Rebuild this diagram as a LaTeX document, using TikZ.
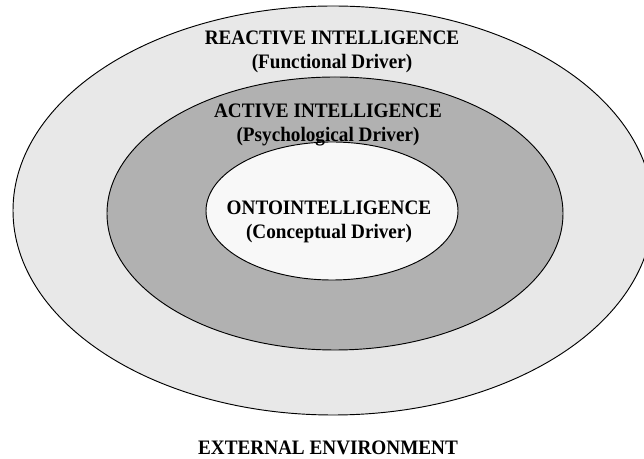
\documentclass[tikz,border=0pt]{standalone}
\usepackage{fontspec}
\setmainfont{Liberation Serif}
\usetikzlibrary{shapes.geometric}
\definecolor{ringouter}{HTML}{E8E8E8}
\definecolor{ringmiddle}{HTML}{B1B1B1}
\definecolor{ringinner}{HTML}{F8F8F8}
% slightly tall bold lettering
\newcommand{\tallbold}[1]{\scalebox{1}[1.07]{#1}}
\begin{document}
\begin{tikzpicture}[x=0.75pt,y=-0.75pt,
  ring/.style={ellipse, draw=black, line width=0.7pt, inner sep=0pt},
  lbl/.style={font=\fontsize{14.4}{18}\selectfont\bfseries, anchor=base, inner sep=0pt}]
  \useasboundingbox (0,0) rectangle (644,459);
  \fill[white] (0,0) rectangle (644,459);
  % nested rings
  \node[ring, fill=ringouter, minimum width=480pt, minimum height=306.75pt] (outer) at (333,210.5) {};
  \node[ring, fill=ringmiddle, minimum width=342pt, minimum height=204.75pt] (middle) at (335,213.5) {};
  \node[ring, fill=ringinner, minimum width=189pt, minimum height=103.5pt] (inner) at (332,211) {};
  % labels
  \node[lbl] (reactA) at (332,44.3) {\tallbold{REACTIVE INTELLIGENCE}};
  \node[lbl] (reactB) at (332,68.3) {\tallbold{(Functional Driver)}};
  \node[lbl] (activeA) at (328,117.3) {\tallbold{ACTIVE INTELLIGENCE}};
  \node[lbl] (activeB) at (328,141.3) {\tallbold{(Psychological Driver)}};
  \node[lbl] (ontoA) at (329,215) {\tallbold{ONTOINTELLIGENCE}};
  \node[lbl] (ontoB) at (329,239) {\tallbold{(Conceptual Driver)}};
  \node[lbl] (env) at (328,455) {\tallbold{EXTERNAL ENVIRONMENT}};
\end{tikzpicture}
\end{document}
